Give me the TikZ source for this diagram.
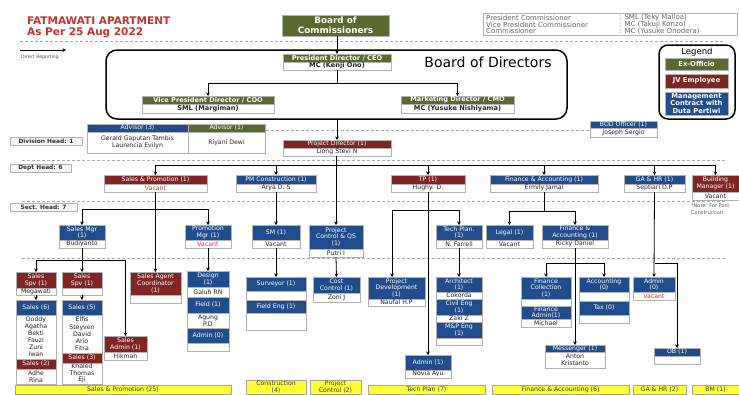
\documentclass[tikz,border=0pt]{standalone}
\usepackage{fontspec}
\setmainfont{DejaVu Sans}
\usetikzlibrary{arrows.meta}
\definecolor{cg}{RGB}{90,106,46}
\definecolor{cr}{RGB}{128,36,36}
\definecolor{cb}{RGB}{33,77,140}
\definecolor{cy}{RGB}{255,255,50}
\definecolor{cvac}{RGB}{220,45,45}
\definecolor{ttl}{RGB}{200,50,45}
\newcommand\fs{\fontsize{6.2}{6.7}\selectfont}
\newcommand\fbh{\fontsize{6.6}{7}\selectfont\bfseries}
\newcommand\fys{\fontsize{6.2}{6.4}\selectfont}
\newcommand\flv{\fontsize{5.9}{6.5}\selectfont}
\newcommand\bx[7]{\node[#2,minimum width={(#5-#3)*1pt},minimum height={(#6-#4)*1pt}] (#1) at ({(#3+#5)/2},{-(#4+#6)/2}) {#7};}
\begin{document}
\begin{tikzpicture}[x=1pt,y=1pt,
 box/.style={draw=gray!60,line width=0.5pt,inner sep=0.2pt,outer sep=0pt,align=center,font=\fs},
 hG/.style={box,fill=cg,text=white},
 hR/.style={box,fill=cr,text=white},
 hB/.style={box,fill=cb,text=white},
 bd/.style={box,fill=white,text=black!85},
 vac/.style={bd,text=cvac},
 yb/.style={box,fill=cy,draw=gray!70,text=black!75,font=\fys},
 lvl/.style={box,fill=gray!6,draw=gray!60,font=\flv\bfseries,text=black!80},
 arr/.style={line width=0.8pt,-{Stealth[length=3.5pt,width=3.5pt]}},
 ln/.style={line width=0.8pt},
 sep/.style={gray!65,line width=1pt,dash pattern=on 3pt off 2pt}]
\useasboundingbox (0,0) rectangle (739,-394);
\fill[white] (0,0) rectangle (739,-394);

% title
\node[anchor=west,text=ttl,font=\fontsize{10.5}{12}\selectfont\bfseries,inner sep=0] (t1) at (27,-21) {FATMAWATI APARTMENT};
\node[anchor=west,text=ttl,font=\fontsize{10.5}{12}\selectfont\bfseries,inner sep=0] (t2) at (27,-33) {As Per 25 Aug 2022};

% separators
\draw[sep] (20,-41) -- (725,-41);
\draw[sep] (266,-130) -- (589,-130);
\draw[sep] (22,-160) -- (727,-160);
\draw[sep] (22,-201) -- (727,-201);
\draw[sep] (22,-258) -- (727,-258);

% direct reporting legend
\coordinate (dr1) at (20,-50);
\coordinate (dr2) at (66,-50);
\draw[arr] (dr1) -- (dr2);
\node[anchor=west,inner sep=0,font=\fontsize{4.6}{5}\selectfont,text=black!70] (drt) at (21,-57) {Direct Reporting};

% commissioners
\bx{boc}{hG,font=\fontsize{8.8}{10}\selectfont\bfseries}{282}{15}{389}{36}{Board of\\Commissioners}
\draw[gray!60,line width=0.6pt] (483,-13) rectangle (737,-35);
\begin{scope}[every node/.style={anchor=west,inner sep=0,font=\fontsize{7}{8}\selectfont,text=black!60}]
\node (c1) at (486,-17.5) {President Commissioner};
\node (c2) at (486,-24.5) {Vice President Commissioner};
\node (c3) at (486,-31) {Commissioner};
\node (c4) at (619,-17.5) {: SML (Teky Malloa)};
\node (c5) at (619,-24.5) {: MC (Takuji Konzo)};
\node (c6) at (619,-31) {: MC (Yusuke Onodera)};
\end{scope}

% board of directors
\node[draw,line width=1.5pt,rounded corners=11pt,minimum width=461pt,minimum height=69pt,outer sep=0pt] (bodr) at (336.5,-84.5) {};
\node[font=\fontsize{14}{16}\selectfont,inner sep=0] (bodt) at (488,-62) {Board of Directors};
\bx{ceoH}{hG,font=\fbh}{283}{54}{391}{62}{President Director / CEO}
\bx{ceoB}{bd,font=\fbh}{283}{62}{391}{70}{MC (Kenji Ono)}
\bx{vpH}{hG,font=\fbh}{142}{96}{274}{104}{Vice President Director / COO}
\bx{vpB}{bd,font=\fbh}{142}{104}{274}{113}{SML (Margiman)}
\bx{mkH}{hG,font=\fbh}{401}{96}{514}{104}{Marketing Director / CMO}
\bx{mkB}{bd,font=\fbh}{401}{104}{514}{113}{MC (Yusuke Nishiyama)}

% legend
\node[draw,line width=1.5pt,rounded corners=9pt,minimum width=76pt,minimum height=74pt,outer sep=0pt] (lgd) at (697,-82) {};
\node[font=\fontsize{8.5}{9}\selectfont,inner sep=0] (lgt) at (697,-52) {Legend};
\bx{lgG}{hG,font=\fontsize{6.8}{7.2}\selectfont\bfseries}{665}{58}{728}{70}{Ex-Officio}
\bx{lgR}{hR,font=\fontsize{6.8}{7.2}\selectfont\bfseries}{665}{74}{728}{88}{JV Employee}
\bx{lgB}{hB,font=\fontsize{6.8}{7.2}\selectfont\bfseries}{665}{92}{728}{115}{Management\\Contract with\\Duta Pertiwi}

% level labels
\bx{lv1}{lvl}{10}{137}{82}{145}{Division Head: 1}
\bx{lv2}{lvl}{10}{164}{71}{172}{Dept Head: 6}
\bx{lv3}{lvl}{10}{203}{77}{211}{Sect. Head: 7}

% advisors / BOD officer
\bx{a3H}{hB}{87}{124}{188}{132}{Advisor (3)}
\bx{a3B}{bd}{87}{132}{188}{153}{Gerald Gaputan Tambis\\Laurencia Evilyn}
\bx{a1H}{hG}{188}{124}{265}{132}{Advisor (1)}
\bx{a1B}{bd}{188}{132}{265}{153}{Riyani Dewi}
\bx{boH}{hB}{590}{121}{657}{128}{BOD Officer (1)}
\bx{boB}{bd}{590}{128}{657}{137}{Joseph Sergio}

% division
\bx{pdH}{hR}{283}{140}{391}{148}{Project Director (1)}
\bx{pdB}{bd}{283}{148}{391}{156}{Liong Stevi N}

% dept
\bx{spH}{hR}{104}{175}{207}{184}{Sales \& Promotion (1)}
\bx{spB}{vac}{104}{184}{207}{192}{Vacant}
\bx{pmH}{hB}{236}{175}{316}{184}{PM Construction (1)}
\bx{pmB}{bd}{236}{184}{316}{192}{Arya D. S}
\bx{tpH}{hR}{391}{175}{465}{184}{TP (1)}
\bx{tpB}{bd}{391}{184}{465}{192}{Hughy. D.}
\bx{faH}{hB}{490}{175}{598}{184}{Finance \& Accounting (1)}
\bx{faB}{bd}{490}{184}{598}{192}{Ermily Jamal}
\bx{gaH}{hB}{624}{175}{685}{184}{GA \& HR (1)}
\bx{gaB}{bd}{624}{184}{685}{192}{Septiari D.P}
\bx{bmH}{hR}{692}{175}{739}{192}{Building\\Manager (1)}
\bx{bmB}{bd}{692}{192}{739}{200}{Vacant}
\node[anchor=north west,inner sep=0,align=left,font=\fontsize{5}{6.5}\selectfont,text=black!65] (note) at (691,-204) {*Note: For Post\\Construction};

% sect
\bx{smgH}{hB}{59}{225}{105}{240}{Sales Mgr\\(1)}
\bx{smgB}{bd}{59}{240}{105}{248}{Budiyanto}
\bx{pmgH}{hB}{185}{225}{231}{240}{Promotion\\Mgr (1)}
\bx{pmgB}{vac}{185}{240}{231}{248}{Vacant}
\bx{smH}{hB}{252}{225}{300}{240}{SM (1)}
\bx{smB}{bd}{252}{240}{300}{248}{Vacant}
\bx{pcH}{hB}{309}{225}{363}{249}{Project\\Control \& QS\\(1)}
\bx{pcB}{bd}{309}{249}{363}{257}{Putri I}
\bx{tplH}{hB}{436}{225}{482}{240}{Tech Plan.\\(1)}
\bx{tplB}{bd}{436}{240}{482}{248}{N. Farrell}
\bx{lgH}{hB}{486}{225}{533}{240}{Legal (1)}
\bx{lgB2}{bd}{486}{240}{533}{248}{Vacant}
\bx{fasH}{hB}{542}{225}{608}{240}{Finance \&\\Accounting (1)}
\bx{fasB}{bd}{542}{240}{608}{248}{Ricky Daniel}

% staff: sales
\bx{ss1H}{hR}{16}{272}{56}{288}{Sales\\Spv (1)}
\bx{ss1B}{bd}{16}{288}{56}{295}{Megawati}
\bx{ss2H}{hR}{62}{272}{102}{288}{Sales\\Spv (1)}
\bx{ss2B}{bd}{62}{288}{102}{295}{}
\bx{s6H}{hB}{16}{300}{56}{315}{Sales (6)}
\bx{s6B}{bd,font=\fontsize{6.2}{7}\selectfont}{16}{315}{56}{359}{Doddy\\Agatha\\Bekti\\Fauzi\\Zuni\\Iwan}
\bx{s2H}{hR}{16}{359}{56}{369}{Sales (2)}
\bx{s2B}{bd}{16}{369}{56}{384}{Adhe\\Rina}
\bx{s5H}{hB}{62}{300}{102}{315}{Sales (5)}
\bx{s5B}{bd,font=\fontsize{6.2}{7.2}\selectfont}{62}{315}{102}{353}{Elfis\\Steyven\\David\\Ario\\Fitra}
\bx{s3H}{hR}{62}{353}{102}{363}{Sales (3)}
\bx{s3B}{bd}{62}{363}{102}{384}{Khaled\\Thomas\\Eji}
\bx{saH}{hR}{104}{336}{147}{352}{Sales\\Admin (1)}
\bx{saB}{bd}{104}{352}{147}{360}{Hikmah}
\bx{sacH}{hR}{130}{272}{181}{295}{Sales Agent\\Coordinator\\(1)}
\bx{sacB}{bd}{130}{295}{181}{303}{}
\bx{dsH}{hB}{187}{271}{229}{287}{Design\\(1)}
\bx{dsB}{bd}{187}{287}{229}{297}{Galuh RN}
\bx{fdH}{hB}{187}{297}{229}{313}{Field (1)}
\bx{fdB}{bd}{187}{313}{229}{328}{Agung\\P.D}
\bx{adH}{hB}{187}{328}{229}{343}{Admin (0)}
\bx{adB}{bd}{187}{343}{229}{351}{}

% staff: construction / control / tech
\bx{svH}{hB}{246}{277}{306}{291}{Surveyor (1)}
\bx{svB}{bd}{246}{291}{306}{300}{}
\bx{feH}{hB}{246}{300}{306}{313}{Field Eng (1)}
\bx{feB}{bd}{246}{313}{306}{330}{}
\bx{ccH}{hB}{313}{277}{360}{293}{Cost\\Control (1)}
\bx{ccB}{bd}{313}{293}{360}{302}{Zoni J}
\bx{pdvH}{hB}{368}{277}{425}{299}{Project\\Development\\(1)}
\bx{pdvB}{bd}{368}{299}{425}{306}{Naufal H.P}
\bx{arH}{hB}{436}{277}{482}{292}{Architect\\(1)}
\bx{arB}{bd}{436}{292}{482}{299}{Cokorda}
\bx{ceH}{hB}{436}{299}{482}{315}{Civil Eng\\(1)}
\bx{ceB}{bd}{436}{315}{482}{322}{Zaki Z}
\bx{mpH}{hB}{436}{322}{482}{338}{M\&P Eng\\(1)}
\bx{mpB}{bd}{436}{338}{482}{345}{}
\bx{admH}{hB}{405}{355}{451}{370}{Admin (1)}
\bx{admB}{bd}{405}{370}{451}{378}{Novia Ayu}

% staff: finance / GA
\bx{fcH}{hB}{521}{277}{571}{299}{Finance\\Collection\\(1)}
\bx{fcB}{bd}{521}{299}{571}{306}{}
\bx{fadH}{hB,font=\fontsize{6.2}{6.3}\selectfont}{521}{306}{571}{319}{Finance\\Admin(1)}
\bx{fadB}{bd}{521}{319}{571}{327}{Michael}
\bx{acH}{hB}{579}{277}{629}{292}{Accounting\\(0)}
\bx{acB}{bd}{579}{292}{629}{301}{}
\bx{txH}{hB}{579}{301}{629}{315}{Tax (0)}
\bx{txB}{bd}{579}{315}{629}{323}{}
\bx{ad0H}{hB}{633}{277}{675}{292}{Admin\\(0)}
\bx{ad0B}{vac}{633}{292}{675}{300}{Vacant}
\bx{msH}{hB}{545}{345}{605}{352}{Messenger (1)}
\bx{msB}{bd}{545}{352}{605}{368}{Anton\\Kristanto}
\bx{obH}{hB}{654}{348}{700}{356}{OB (1)}
\bx{obB}{bd}{654}{356}{700}{364}{}

% yellow totals
\bx{y1}{yb}{15}{385}{231}{394}{Sales \& Promotion (25)}
\bx{y2}{yb}{246}{380}{306}{394}{Construction\\(4)}
\bx{y3}{yb}{310}{380}{361}{394}{Project\\Control (2)}
\bx{y4}{yb}{368}{385}{485}{394}{Tech Plan (7)}
\bx{y5}{yb}{492}{385}{629}{394}{Finance \& Accounting (6)}
\bx{y6}{yb}{633}{385}{686}{394}{GA \& HR (2)}
\bx{y7}{yb}{692}{385}{739}{394}{BM (1)}

% ===== connectors =====
\coordinate (bus0) at (0,-83);
\coordinate (bus1) at (0,-165);
\coordinate (bus2) at (0,-209);
\coordinate (bus4) at (0,-211);
\coordinate (bus5) at (0,-263);
\coordinate (bus6) at (0,-260);
\coordinate (pdvX) at (392,-210);

\draw[arr] (ceoH.north |- boc.south) -- (ceoH.north);
\draw[ln] (ceoB.south) -- (ceoB.south |- bus0);
\draw[arr] (ceoB.south |- bus0) -| (vpH.north);
\draw[arr] (ceoB.south |- bus0) -| (mkH.north);
\draw[arr] (pdH.north |- bodr.south) -- (pdH.north);

\draw[ln] (spH.north |- bus1) -- (bmH.north |- bus1);
\draw[arr] (pcH.north |- pdB.south) -- (pcH.north);
\foreach \n in {spH,pmH,tpH,faH,gaH,bmH} \draw[arr] (\n.north |- bus1) -- (\n.north);

% sales & promotion
\draw[ln] (smgH.north |- bus2) -- (pmgH.north |- bus2);
\draw[arr] (smgH.north |- bus2) -- (smgH.north);
\draw[arr] (pmgH.north |- bus2) -- (pmgH.north);
\draw[arr] (spB.south) -- (sacH.north);
\draw[arr] (smgB.south) -- (ss2H.north);
\draw[arr] (ss2H.north |- bus6) -| (ss1H.north);
\draw[arr] (ss2H.north |- bus6) -| (saH.north);
\draw[arr] (ss1B.south) -- (s6H.north);
\draw[arr] (ss2B.south) -- (s5H.north);
\draw[arr] (pmgB.south) -- (dsH.north);

% construction / control
\draw[arr] (pmB.south) -- (smH.north);
\draw[arr] (smB.south) -- (svH.north);
\draw[arr] (pcB.south) -- (ccH.north);

% tech plan
\draw[arr] (tpB.south) -- (admH.north);
\draw[ln] (pdvX) -- (tplH.north |- pdvX);
\draw[arr] (pdvX) -- (pdvX |- pdvH.north);
\draw[arr] (tplH.north |- pdvX) -- (tplH.north);
\draw[arr] (tplB.south) -- (arH.north);

% finance
\draw[ln] (faB.south) -- (faB.south |- bus4);
\draw[ln] (lgH.north |- bus4) -- (fasH.north |- bus4);
\draw[arr] (lgH.north |- bus4) -- (lgH.north);
\draw[arr] (fasH.north |- bus4) -- (fasH.north);
\draw[arr] (fasB.south) -- (msH.north);
\draw[ln] (fcH.north |- bus5) -- (acH.north |- bus5);
\draw[arr] (fcH.north |- bus5) -- (fcH.north);
\draw[arr] (acH.north |- bus5) -- (acH.north);

% GA & HR
\draw[arr] (gaB.south) -- (ad0H.north);
\draw[arr] (gaB.south |- bus5) -| (obH.north);
\end{tikzpicture}
\end{document}
